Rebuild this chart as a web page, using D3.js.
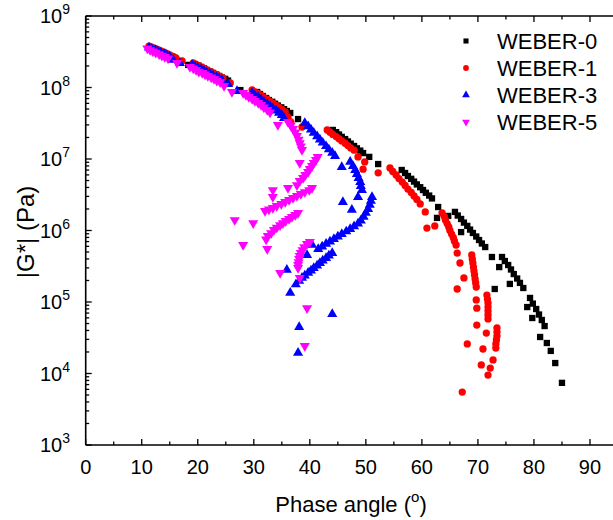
<!DOCTYPE html>
<html>
<head>
<meta charset="utf-8">
<script src="https://d3js.org/d3.v7.min.js"></script>
<style>
  body { margin: 0; background: #fff; }
  svg text { font-family: "Liberation Sans", Arial, sans-serif; fill: #000; }
</style>
</head>
<body>
<svg width="613" height="520"></svg>
<script>
// [phase angle (deg), |G*| (Pa)]
var weber0 = [
  [11.5,3.56e8],[12.0,3.45e8],[12.5,3.31e8],[13.1,3.18e8],[13.6,3.05e8],[14.1,2.94e8],[14.7,2.82e8],[15.2,2.71e8],[15.8,2.60e8],
  [16.8,2.35e8],[18.3,2.07e8],
  [19.5,2.13e8],[20.1,2.03e8],[20.6,1.94e8],[21.1,1.85e8],[21.6,1.76e8],[22.2,1.67e8],[22.7,1.60e8],[23.3,1.52e8],[23.8,1.45e8],[24.3,1.38e8],[24.9,1.32e8],[25.4,1.25e8],
  [27.6,9.2e7],
  [30.6,8.65e7],[31.1,8.11e7],[31.6,7.60e7],[32.2,7.13e7],[32.7,6.68e7],[33.3,6.31e7],[33.8,5.93e7],[34.3,5.60e7],[34.9,5.28e7],[35.4,4.98e7],[35.9,4.69e7],[36.5,4.40e7],
  [37.9,3.62e7],
  [44.1,2.55e7],[44.7,2.37e7],[45.2,2.20e7],[45.7,2.04e7],[46.3,1.90e7],[46.8,1.76e7],[47.3,1.64e7],[47.9,1.52e7],[48.4,1.41e7],[49.0,1.31e7],[49.5,1.21e7],
  [50.6,1.07e7],[52.2,8.5e6],
  [56.4,7.02e6],[57.0,6.37e6],[57.5,5.78e6],[58.1,5.28e6],[58.6,4.83e6],[59.1,4.41e6],[59.7,4.03e6],[60.2,3.68e6],[60.7,3.37e6],[61.3,3.08e6],[61.8,2.81e6],
  [62.9,2.13e6],[62.7,1.50e6],[64.7,1.60e6],
  [65.9,1.82e6],[66.4,1.62e6],[67.0,1.45e6],[67.5,1.29e6],[68.1,1.16e6],[68.6,1.03e6],[69.1,9.23e5],[69.7,8.24e5],[70.2,7.36e5],[70.7,6.58e5],[71.3,5.87e5],
  [72.5,4.26e5],[67.0,9.5e5],
  [74.3,4.26e5],[74.8,3.74e5],[75.4,3.29e5],[75.9,2.85e5],[76.4,2.46e5],[77.0,2.13e5],[77.5,1.85e5],[78.1,1.57e5],
  [73.8,3.08e5],[73.0,1.52e5],[75.7,1.79e5],[78.8,8.5e4],
  [79.3,1.14e5],[79.8,9.5e4],[80.4,7.98e4],[80.9,6.68e4],[81.4,5.60e4],[81.9,4.61e4],
  [79.7,5.97e4],[81.1,3.24e4],[82.3,2.67e4],[83.0,2.07e4],[83.8,1.40e4],[85.0,7.4e3]
];
var weber1 = [
  [11.3,3.80e8],[11.8,3.66e8],[12.4,3.52e8],[12.9,3.38e8],[13.4,3.24e8],[14.0,3.11e8],[14.5,2.98e8],[15.0,2.85e8],[15.6,2.73e8],
  [16.1,2.59e8],[17.2,2.35e8],
  [19.2,2.20e8],[19.7,2.10e8],[20.2,2.00e8],[20.8,1.91e8],[21.3,1.82e8],[21.8,1.73e8],[22.4,1.65e8],[22.9,1.57e8],[23.4,1.50e8],[24.0,1.43e8],[24.5,1.36e8],
  [25.8,1.16e8],
  [29.7,9.23e7],[30.2,8.71e7],[30.8,8.22e7],[31.3,7.73e7],[31.8,7.24e7],[32.4,6.79e7],[32.9,6.37e7],[33.4,5.97e7],[34.0,5.60e7],[34.5,5.25e7],[35.0,4.92e7],[35.6,4.54e7],
  [36.1,3.86e7],[36.6,3.29e7],[38.6,2.80e7],
  [43.1,2.55e7],[43.6,2.37e7],[44.1,2.21e7],[44.7,2.06e7],[45.2,1.92e7],[45.7,1.79e7],[46.3,1.66e7],[46.8,1.54e7],[47.3,1.43e7],[47.9,1.33e7],
  [48.6,1.07e7],[49.8,9.1e6],[49.5,7.2e6],[52.2,6.4e6],
  [54.3,7.48e6],[54.8,6.68e6],[55.4,5.97e6],[55.9,5.33e6],[56.5,4.76e6],[57.0,4.26e6],[57.5,3.80e6],[58.1,3.40e6],[58.6,3.04e6],[59.1,2.72e6],
  [59.7,2.35e6],[60.6,1.82e6],[60.9,1.08e6],[62.3,1.16e6],
  [63.6,1.76e6],[64.0,1.57e6],[64.2,1.40e6],[64.5,1.25e6],[64.8,1.12e6],[65.0,1.00e6],[65.3,8.9e5],[65.6,7.98e5],[65.8,7.13e5],[66.1,6.27e5],
  [66.3,4.84e5],[66.8,3.51e5],[67.5,2.17e5],[66.3,1.52e5],
  [68.9,4.54e5],[69.0,3.99e5],[69.1,3.51e5],[69.2,3.08e5],[69.3,2.71e5],[69.4,2.39e5],[69.5,2.10e5],[69.6,1.85e5],[69.7,1.62e5],
  [69.7,1.07e5],[69.8,8.2e4],[69.8,4.76e4],[68.1,2.59e4],
  [71.6,1.25e5],[71.7,1.10e5],[71.8,9.7e4],[71.8,8.5e4],[71.8,7.5e4],[71.8,6.6e4],[71.8,5.8e4],
  [71.5,3.68e4],[70.9,2.20e4],[70.6,1.32e4],[71.8,9.5e3],
  [73.4,4.33e4],[73.4,3.80e4],[73.4,3.34e4],[73.3,2.94e4],[73.2,2.59e4],[73.2,2.27e4],
  [72.7,1.55e4],[72.2,1.19e4],[67.2,5.5e3]
];
var weber3 = [
  [11.3,3.63e8],[11.8,3.48e8],[12.4,3.34e8],[12.9,3.21e8],[13.4,3.08e8],[14.0,2.94e8],[14.5,2.82e8],[15.0,2.70e8],
  [15.6,2.43e8],[16.8,2.20e8],
  [19.0,2.07e8],[19.5,1.97e8],[20.0,1.88e8],[20.6,1.79e8],[21.1,1.70e8],[21.6,1.62e8],[22.2,1.55e8],[22.7,1.47e8],[23.3,1.40e8],[23.8,1.34e8],[24.3,1.27e8],
  [25.4,1.12e8],[27.0,8.9e7],
  [29.7,8.37e7],[30.2,7.80e7],[30.8,7.27e7],[31.3,6.77e7],[31.8,6.31e7],[32.4,5.88e7],[32.9,5.48e7],[33.4,5.10e7],[34.0,4.75e7],[34.5,4.43e7],[35.0,4.12e7],
  [35.4,3.74e7],
  [39.1,3.18e7],[39.7,2.86e7],[40.2,2.58e7],[40.7,2.32e7],[41.3,2.08e7],[41.8,1.87e7],[42.3,1.69e7],[42.9,1.51e7],[43.4,1.36e7],[44.0,1.22e7],[44.5,1.10e7],
  [45.7,7.7e6],[45.9,2.5e6],
  [47.2,9.1e6],[47.7,7.98e6],[48.1,7.02e6],[48.4,6.17e6],[48.7,5.42e6],[49.0,4.76e6],[49.1,4.19e6],[49.3,3.68e6],
  [48.6,2.94e6],[47.5,1.94e6],
  [51.1,2.94e6],[50.9,2.59e6],[50.7,2.28e6],[50.4,2.00e6],[50.0,1.76e6],[49.6,1.55e6],[49.1,1.38e6],[48.6,1.25e6],[47.9,1.14e6],[47.2,1.05e6],
  [46.5,9.7e5],[45.7,8.9e5],[45.0,8.2e5],[44.3,7.6e5],[43.6,7.0e5],[42.9,6.5e5],[42.2,5.97e5],[41.5,5.51e5],
  [40.4,6.3e5],[39.5,4.54e5],[35.9,2.81e5],
  [44.0,4.84e5],[43.4,4.47e5],[42.9,4.12e5],[42.3,3.80e5],[41.8,3.51e5],[41.3,3.24e5],[40.7,2.99e5],[40.2,2.76e5],[39.7,2.55e5],[39.1,2.35e5],[38.6,2.17e5],[38.1,1.97e5],[37.5,1.76e5],
  [36.5,1.34e5],[44.0,6.8e4],[38.1,4.47e4],[37.9,1.94e4]
];
var weber5 = [
  [11.0,3.51e8],[11.5,3.34e8],[12.0,3.20e8],[12.5,3.06e8],[13.1,2.92e8],[13.6,2.79e8],[14.1,2.67e8],[14.7,2.55e8],
  [16.3,2.20e8],
  [18.6,1.94e8],[19.2,1.85e8],[19.7,1.76e8],[20.2,1.67e8],[20.8,1.60e8],[21.3,1.52e8],[21.8,1.45e8],[22.4,1.38e8],[22.9,1.32e8],[23.4,1.25e8],[24.0,1.19e8],
  [24.7,1.05e8],[26.1,8.65e7],
  [28.1,8.37e7],[28.6,7.85e7],[29.1,7.36e7],[29.7,6.90e7],[30.2,6.47e7],[30.8,6.07e7],[31.3,5.69e7],[31.8,5.25e7],[32.4,4.84e7],[32.9,4.47e7],
  [34.3,2.99e7],
  [36.1,3.29e7],[36.6,2.94e7],[37.0,2.63e7],[37.4,2.35e7],[37.7,2.10e7],[38.0,1.87e7],[38.2,1.67e7],[38.4,1.50e7],[38.6,1.34e7],
  [38.2,8.8e6],
  [41.4,1.07e7],[41.1,9.7e6],[40.7,8.8e6],[40.4,7.98e6],[40.0,7.24e6],[39.7,6.58e6],[39.2,5.97e6],[38.8,5.42e6],[38.2,4.92e6],
  [37.7,4.32e6],[36.1,3.93e6],[33.4,3.68e6],[33.4,2.94e6],
  [40.4,3.93e6],[39.9,3.68e6],[39.1,3.45e6],[38.4,3.24e6],[37.7,3.04e6],[37.0,2.85e6],[36.3,2.67e6],[35.6,2.51e6],[34.9,2.35e6],[34.1,2.20e6],[33.4,2.07e6],[32.7,1.97e6],[32.0,1.88e6],
  [29.9,1.27e6],[26.6,1.40e6],
  [37.9,1.76e6],[37.4,1.65e6],[36.8,1.55e6],[36.3,1.45e6],[35.7,1.36e6],[35.2,1.27e6],[34.7,1.19e6],[34.1,1.10e6],[33.6,1.02e6],[33.1,9.2e5],[32.5,8.4e5],[32.2,7.48e5],
  [32.4,5.51e5],[28.1,6.27e5],
  [40.0,6.90e5],[39.5,6.47e5],[39.0,5.87e5],[38.7,5.33e5],[38.4,4.84e5],[38.2,4.40e5],[38.1,3.99e5],[38.0,3.62e5],[37.9,3.29e5],[37.9,2.99e5],
  [38.2,2.17e5],[34.7,2.55e5],[39.5,8.2e4],[39.1,2.43e4]
];

var seriesNames = ["WEBER-0", "WEBER-1", "WEBER-3", "WEBER-5"];
var seriesData = [weber0, weber1, weber3, weber5];
var seriesColors = ["#000000", "#ff0000", "#0000ff", "#ff00ff"];
var xTicks = [0, 10, 20, 30, 40, 50, 60, 70, 80, 90];
var yExponents = [3, 4, 5, 6, 7, 8, 9];

var svg = d3.select("svg");
var pLeft = 85.7, pRight = 618, pTop = 16, pBottom = 445;

var x = d3.scaleLinear().domain([0, 95]).range([pLeft, pRight]);
var y = d3.scaleLog().domain([1e3, 1e9]).range([pBottom, pTop]);

var shapes = [d3.symbolSquare, d3.symbolCircle, d3.symbolTriangle, d3.symbolTriangle];
var sizes = [40, 42, 44, 44];
var rot = [0, 0, 0, 180];

// markers
seriesData.forEach(function(data, i) {
  svg.append("g")
    .selectAll("path")
    .data(data)
    .enter()
    .append("path")
    .attr("d", d3.symbol().type(shapes[i]).size(sizes[i]))
    .attr("transform", function(d) {
      return "translate(" + x(d[0]) + "," + y(d[1]) + ") rotate(" + rot[i] + ")";
    })
    .attr("fill", seriesColors[i]);
});

// frame lines
var frame = svg.append("g").attr("stroke", "#000").attr("stroke-width", 1.6);
frame.append("line").attr("x1", pLeft).attr("x2", pLeft).attr("y1", pTop).attr("y2", pBottom);
frame.append("line").attr("x1", pLeft).attr("x2", pRight).attr("y1", pBottom).attr("y2", pBottom);
frame.append("line").attr("x1", pLeft).attr("x2", pRight).attr("y1", pTop).attr("y2", pTop);
frame.append("line").attr("x1", pRight).attr("x2", pRight).attr("y1", pTop).attr("y2", pBottom);

// x ticks (bottom + top, inward)
var xMinor = d3.range(5, 95, 10);
var ticks = svg.append("g").attr("stroke", "#000").attr("stroke-width", 1.3);
xTicks.forEach(function(t) {
  ticks.append("line").attr("x1", x(t)).attr("x2", x(t)).attr("y1", pBottom).attr("y2", pBottom - 6);
  ticks.append("line").attr("x1", x(t)).attr("x2", x(t)).attr("y1", pTop).attr("y2", pTop + 6);
});
xMinor.forEach(function(t) {
  ticks.append("line").attr("x1", x(t)).attr("x2", x(t)).attr("y1", pBottom).attr("y2", pBottom - 3.5);
  ticks.append("line").attr("x1", x(t)).attr("x2", x(t)).attr("y1", pTop).attr("y2", pTop + 3.5);
});

// y ticks, log minors
yExponents.forEach(function(e) {
  var v = Math.pow(10, e);
  ticks.append("line").attr("x1", pLeft).attr("x2", pLeft + 6).attr("y1", y(v)).attr("y2", y(v));
  if (e < 9) {
    for (var m = 2; m < 10; m++) {
      ticks.append("line").attr("x1", pLeft).attr("x2", pLeft + 3.5)
        .attr("y1", y(m * v)).attr("y2", y(m * v));
    }
  }
});

// tick labels
svg.append("g").selectAll("text")
  .data(xTicks)
  .enter()
  .append("text")
  .attr("x", function(d) { return x(d); })
  .attr("y", 474)
  .attr("text-anchor", "middle")
  .attr("font-size", "20px")
  .text(function(d) { return d; });

var yl = svg.append("g").selectAll("text")
  .data(yExponents)
  .enter()
  .append("text")
  .attr("x", 70)
  .attr("y", function(d) { return y(Math.pow(10, d)) + 7; })
  .attr("text-anchor", "end")
  .attr("font-size", "20px");
yl.append("tspan").text("10");
yl.append("tspan").attr("font-size", "14px").attr("dy", -9).text(function(d) { return d; });

// axis titles
var xt = svg.append("text")
  .attr("x", 351)
  .attr("y", 512)
  .attr("text-anchor", "middle")
  .attr("font-size", "22px");
xt.append("tspan").text("Phase angle (");
xt.append("tspan").attr("font-size", "15px").attr("dy", -10).text("o");
xt.append("tspan").attr("dy", 10).text(")");

svg.append("text")
  .attr("transform", "translate(34,232) rotate(-90)")
  .attr("text-anchor", "middle")
  .attr("font-size", "24px")
  .text("|G*| (Pa)");

// legend
var legend = svg.append("g");
seriesNames.forEach(function(name, i) {
  var ly = 41 + i * 27;
  legend.append("path")
    .attr("d", d3.symbol().type(shapes[i]).size(26))
    .attr("transform", "translate(466," + ly + ") rotate(" + rot[i] + ")")
    .attr("fill", seriesColors[i]);
  legend.append("text")
    .attr("x", 497)
    .attr("y", ly + 8)
    .attr("font-size", "22px")
    .text(name);
});
</script>
</body>
</html>
